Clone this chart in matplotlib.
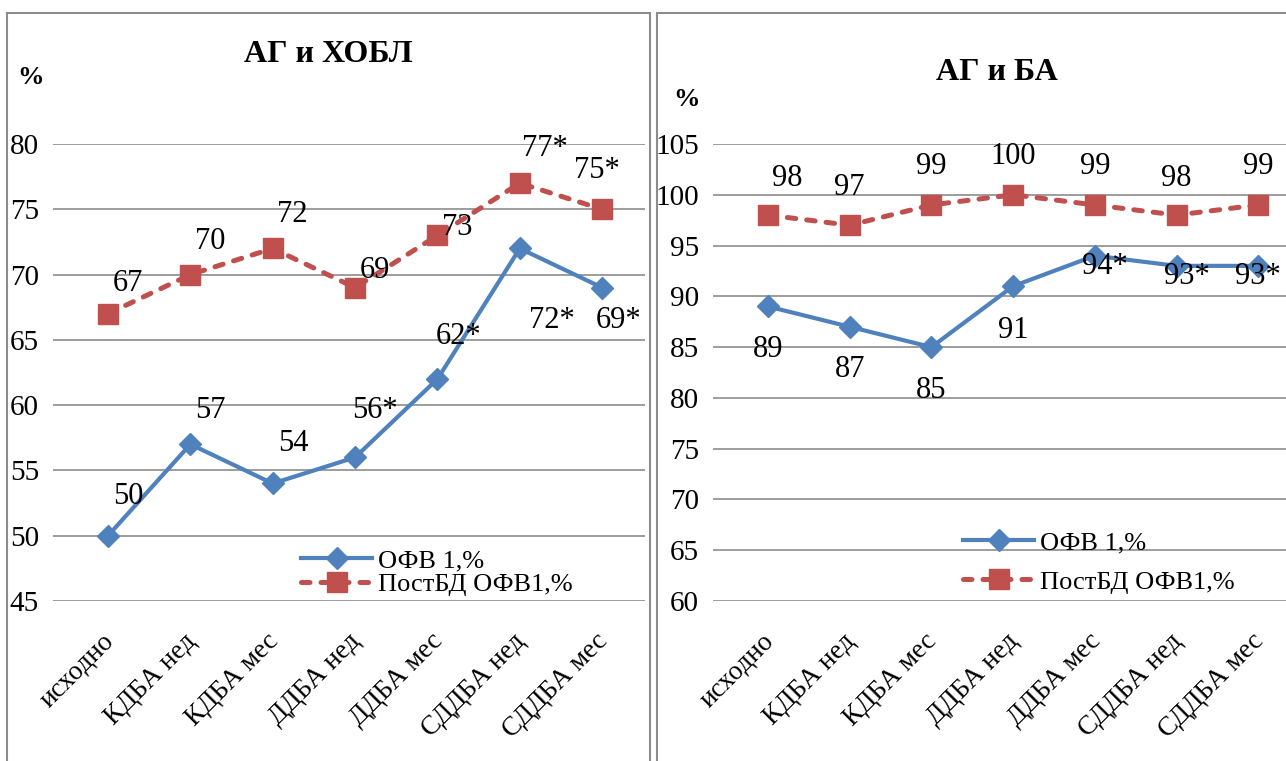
import matplotlib
matplotlib.use('Agg')
from matplotlib import pyplot as plt
from matplotlib.patches import Rectangle
from matplotlib.transforms import ScaledTranslation

plt.rcParams['font.family'] = ['Liberation Serif', 'DejaVu Serif']

categories = ['исходно', 'КДБА нед', 'КДБА мес', 'ДДБА нед', 'ДДБА мес', 'СДДБА нед', 'СДДБА мес']

# АГ и ХОБЛ
copd_fev = [50, 57, 54, 56, 62, 72, 69]
copd_post = [67, 70, 72, 69, 73, 77, 75]
copd_fev_lbl = ['50', '57', '54', '56*', '62*', '72*', '69*']
copd_post_lbl = ['67', '70', '72', '69', '73', '77*', '75*']

# АГ и БА
asthma_fev = [89, 87, 85, 91, 94, 93, 93]
asthma_post = [98, 97, 99, 100, 99, 98, 99]
asthma_fev_lbl = ['89', '87', '85', '91', '94*', '93*', '93*']
asthma_post_lbl = ['98', '97', '99', '100', '99', '98', '99']

# label offsets (pixels) relative to the data point
copd_fev_off = [(20, 39), (20, 34), (21, 40), (20, 47), (21, 43), (32, -72), (16, -33)]
copd_post_off = [(20, 30), (20, 33), (20, 34), (20, 17), (20, 8), (25, 35), (-5, 39)]
asthma_fev_off = [(0, -43), (0, -43), (0, -43), (0, -44), (10, -11), (10, -11), (0, -11)]
asthma_post_off = [(19, 37), (0, 38), (0, 38), (0, 38), (0, 38), (0, 37), (0, 38)]

blue = '#4F81BD'
red = '#C0504D'
grid = '#8C8C8C'
W, H = 1286, 761

fig = plt.figure(figsize=(W / 100, H / 100), dpi=100)

# panel frames
fig.patches.append(Rectangle((7 / W, -0.01), 643 / W, 1 - 13 / H + 0.01, transform=fig.transFigure,
                             fill=False, edgecolor=grid, lw=1.5))
fig.patches.append(Rectangle((657 / W, -0.01), 640 / W, 1 - 13 / H + 0.01, transform=fig.transFigure,
                             fill=False, edgecolor=grid, lw=1.5))


def panel(rect, xlim, ylim, fev, post, fev_lbl, post_lbl, fev_off, post_off):
    ax = fig.add_axes(rect)
    x = range(len(categories))
    ax.plot(x, fev, color=blue, lw=3, marker='D', ms=11, label='ОФВ 1,%', zorder=3)
    ax.plot(x, post, color=red, lw=3.6, linestyle=(0, (1.7, 2.2)), dash_capstyle='round',
            marker='s', ms=14, label='ПостБД ОФВ1,%', zorder=3)
    for i in x:
        ax.annotate(fev_lbl[i], (i, fev[i]), xytext=fev_off[i], textcoords='offset pixels',
                    ha='center', va='center', fontsize=22)
        ax.annotate(post_lbl[i], (i, post[i]), xytext=post_off[i], textcoords='offset pixels',
                    ha='center', va='center', fontsize=22)
    ax.set_xlim(*xlim)
    ax.set_ylim(*ylim)
    ax.set_yticks(range(ylim[0], ylim[1] + 1, 5))
    ax.yaxis.grid(True, color=grid, lw=1.2)
    ax.set_axisbelow(True)
    ax.set_xticks(list(x))
    ax.set_xticklabels(categories, rotation=45, ha='right', rotation_mode='anchor')
    ax.tick_params(axis='y', length=0, labelsize=21, pad=10)
    ax.tick_params(axis='x', length=0, labelsize=19.5, pad=20)
    shift = ScaledTranslation(-0.07, 0, fig.dpi_scale_trans)
    for lab in ax.get_xticklabels():
        lab.set_transform(lab.get_transform() + shift)
    for s in ax.spines.values():
        s.set_visible(False)
    return ax


ax1 = panel([53 / W, 1 - 601 / H, 592 / W, 457 / H], (-0.668, 6.52), (45, 80),
            copd_fev, copd_post, copd_fev_lbl, copd_post_lbl, copd_fev_off, copd_post_off)
ax1.legend(loc='upper left', bbox_to_anchor=(301 / W, 1 - 549 / H), bbox_transform=fig.transFigure,
           frameon=False, fontsize=19, borderpad=0, handlelength=2.7, handletextpad=0.23,
           labelspacing=0.02, borderaxespad=0)

ax2 = panel([713 / W, 1 - 601 / H, 573 / W, 457 / H], (-0.673, 6.34), (60, 105),
            asthma_fev, asthma_post, asthma_fev_lbl, asthma_post_lbl, asthma_fev_off, asthma_post_off)
ax2.legend(loc='upper left', bbox_to_anchor=(963 / W, 1 - 531 / H), bbox_transform=fig.transFigure,
           frameon=False, fontsize=19, borderpad=0, handlelength=2.7, handletextpad=0.23,
           labelspacing=0.59, borderaxespad=0)

fig.text(328 / W, 1 - 54 / H, 'АГ и ХОБЛ', ha='center', va='center', fontsize=23, fontweight='bold')
fig.text(30 / W, 1 - 77 / H, '%', ha='center', va='center', fontsize=19, fontweight='bold')
fig.text(997 / W, 1 - 72 / H, 'АГ и БА', ha='center', va='center', fontsize=23, fontweight='bold')
fig.text(686 / W, 1 - 99 / H, '%', ha='center', va='center', fontsize=19, fontweight='bold')

fig.savefig('out.png', dpi=100)
